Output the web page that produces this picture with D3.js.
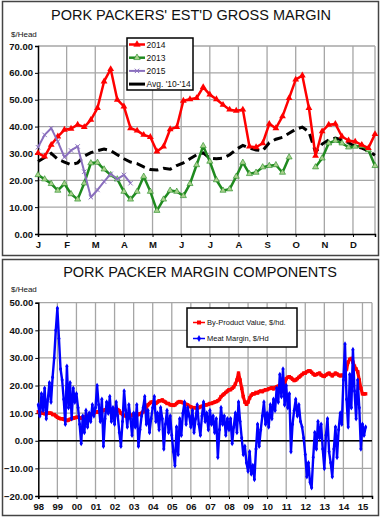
<!DOCTYPE html>
<html><head><meta charset="utf-8">
<script src="https://cdn.jsdelivr.net/npm/d3@7"></script>
<style>
body{margin:0;background:#fff}
svg{display:block;font-family:"Liberation Sans",Arial,sans-serif}
</style>
</head><body>
<svg id="c" width="382" height="520"></svg>
<script>
// ---------- Top chart data (weekly, 52 weeks) ----------
const monthLabels = ["J","F","M","A","M","J","J","A","S","O","N","D"];
const topYTicks = [0,10,20,30,40,50,60,70];
const series2014 = [30.1,28.8,33.2,36.3,38.8,39.2,40.7,39.8,42.5,46.9,56.8,61.4,50,47.5,39.4,38.5,36.9,36.1,30.7,32.6,39,39.8,49.6,50.2,50.6,54.7,51.9,50.2,48.1,46.3,45.9,46.3,32.6,32.3,33.8,41,39.4,43.8,50.6,57.5,59,46.9,29.1,38.2,40.7,41,36.3,34.8,34.4,33.2,32,37.2];
const series2013 = [22.0,20.4,18.7,16.2,18.7,14.9,12.9,18.9,26.4,26.6,24.1,22,20.4,15.8,12.9,15.8,21.4,15.8,8.7,12.9,16.2,15.8,14.2,18.7,25.7,32.8,27,20.1,16.2,16.7,21.4,26.6,22.4,22.9,24.9,25.4,25.7,22.9,28.6,null,null,null,24.9,28.2,33.8,34.8,33.8,32.3,32.6,32.8,31.3,25.4];
const series2015 = [32.3,36.9,39.4,34.4,28.6,31.1,32.6,23.2,13.7,16.4,19.5,22.4,20.4,22,18.9];
const seriesAvg = [27,28.5,30,27.8,26.8,25.8,26.5,29,30.3,31,31.6,31,29.5,28,26.8,26.2,25,24,23.8,24.5,24.1,25.5,26.5,28,29.5,30.2,28.2,28,28.2,29.5,31.5,33,32,31.3,31,34,35.3,36,37.5,39,39.8,38,30.5,33.5,35,35.7,35,34,32.5,32,31,29.3];
const topLegend = ["2014","2013","2015","Avg. '10-'14"];

// ---------- Bottom chart data (monthly, Jan 1998 .. Mar 2015) ----------
const yearLabels = ["98","99","00","01","02","03","04","05","06","07","08","09","10","11","12","13","14","15"];
const bottomYTicks = [-20,-10,0,10,20,30,40,50];
const byProduct = [
10.5,10.2,10,10,9.8,9.8,10,10,10,9.5,9.5,9,
8.5,8.2,8,8,7.8,7.5,7.3,7.5,7.8,8,8.2,8.3,
8.5,8.5,8.3,8.2,8.3,8.5,8.8,9,9.3,9.5,9.8,10,
10.3,10.5,10.3,10.5,10.8,11,11.2,11,10.8,11,11.2,11,
11,11.5,11.3,10.8,10,9.5,9.2,9,8.8,8.5,9,9.3,
9.5,9.5,9.3,9.5,9.8,10,10.5,11,12,13,13.5,14,
14,13.8,13.5,14,14.5,14.5,14.8,14.3,14,13.5,13.5,13,
13,12.8,13,13.5,14,14.2,14,13.8,13.5,13.2,13,12.5,
12.3,12,12,12,11.8,12,12.3,12.5,12.8,13,13,13.2,
13.5,13.5,13.8,14,14.2,14.5,15,16,16.5,17,17.5,18,
18.5,18.5,19,19.5,20.5,22,24.5,22,19,16,14,13.2,
14,15.5,16.5,17,17,17.5,17.3,17.8,18,17.8,18.2,18.5,
18.5,18.8,19,19.2,18.8,19.3,19.5,19.8,20,20,19.5,20.5,
22.5,23,23.2,22.8,22.3,21.8,22,22.5,23,23.5,24,24.5,
24.5,25,25.3,25.3,24.8,24.2,23.8,24,24.3,24.5,23.8,23.5,
23.3,23.8,24.2,24.5,24,23.5,24,24.5,24.2,23.8,23.5,23.8,
23.5,24.5,26,28.5,29.5,29.8,28.5,27,26,25,22,19,
17,17,17];
const meatMargin = [
13,9,17,11,19,8,15,21,14,23,30,40,
48,37,26,22,15,6,27,12,21,8,19,14,
17,12,6,-1,9,3,11,5,10,7,13,9,
12,20,13,7,15,-2,8,14,10,16,7,12,
6,14,9,3,-2,7,18,11,5,13,8,2,
10,5,13,-2,4,9,12,16,6,11,3,8,
12,16,7,10,4,12,8,-3,6,11,3,9,
2,-4,-9,5,-5,8,2,10,14,6,12,9,
5,11,3,8,13,6,2,9,14,7,10,4,
11,6,9,3,8,-6,4,12,6,9,2,8,
4,8,-1,5,10,3,14,7,1,-5,-2,-8,
-11,-4,-12,-9,-14,-3,6,-2,4,9,14,6,
10,5,13,8,15,11,19,14,24,16,26,13,
20,12,17,-4,6,11,15,9,13,7,5,1,
-5,-13,-8,-15,-17,-6,3,-3,7,1,6,-3,
-10,2,8,-4,-8,-13,-3,5,-6,4,10,6,
22,35,15,5,24,12,33,18,8,22,12,-3,
6,2,5];
const bottomLegend = ["By-Product Value, $/hd.","Meat Margin, $/Hd"];

const svg = d3.select("#c");
const GRID = "#a6a6a6";
const FONT_TICK = 9.5;

// frames
svg.append("rect").attr("x",2.5).attr("y",1.5).attr("width",376).attr("height",254)
  .attr("fill","none").attr("stroke","#444").attr("stroke-width",1.5);
svg.append("rect").attr("x",2.5).attr("y",259.5).attr("width",376).attr("height",256)
  .attr("fill","none").attr("stroke","#444").attr("stroke-width",1.5);

// ================= TOP CHART =================
const x1 = d3.scaleLinear().domain([0,51]).range([38,375]);
const y1 = d3.scaleLinear().domain([0,70]).range([234,46]);
const g1 = svg.append("g");

g1.append("text").attr("x",191).attr("y",19.5).attr("text-anchor","middle")
  .attr("font-size",14.5).attr("fill","#111").text("PORK PACKERS' EST'D GROSS MARGIN");
g1.append("text").attr("x",11).attr("y",37).attr("font-size",8).attr("fill","#111").text("$/Head");

g1.append("g").selectAll("line").data(topYTicks.filter(d=>d>0)).join("line")
  .attr("x1",38).attr("x2",375).attr("y1",d=>y1(d)).attr("y2",d=>y1(d))
  .attr("stroke",GRID).attr("stroke-width",1.3);
const monthPos = monthLabels.map((m,i)=>i*52/12);
g1.append("g").selectAll("line").data(monthPos.slice(1)).join("line")
  .attr("x1",d=>x1(d)).attr("x2",d=>x1(d)).attr("y1",46).attr("y2",234)
  .attr("stroke",GRID).attr("stroke-width",1.3);
g1.append("line").attr("x1",375).attr("x2",375).attr("y1",46).attr("y2",234)
  .attr("stroke",GRID).attr("stroke-width",1.3);

const ay1 = g1.append("g").attr("transform","translate(38,0)")
  .call(d3.axisLeft(y1).tickValues(topYTicks).tickFormat(d3.format(".2f")).tickSize(3).tickPadding(2));
const ax1 = g1.append("g").attr("transform","translate(0,234)")
  .call(d3.axisBottom(x1).tickValues(monthPos).tickFormat((d,i)=>monthLabels[i]).tickSize(3).tickPadding(4));
[ay1,ax1].forEach(a=>{
  a.select(".domain").attr("stroke","#000").attr("stroke-width",1.5);
  a.selectAll(".tick line").attr("stroke","#000");
  a.selectAll("text").attr("font-size",FONT_TICK).attr("font-weight","bold").attr("fill","#111")
   .attr("font-family","'Liberation Sans',Arial,sans-serif");
});

const line1 = d3.line().defined(d=>d!=null).x((d,i)=>x1(i)).y(d=>y1(d));
g1.append("path").datum(seriesAvg).attr("d",line1).attr("fill","none")
  .attr("stroke","#000").attr("stroke-width",3).attr("stroke-dasharray","9,5");
g1.append("path").datum(series2013).attr("d",line1).attr("fill","none")
  .attr("stroke","#1f8a1f").attr("stroke-width",2.5).attr("stroke-linejoin","round");
g1.append("g").selectAll("path").data(series2013.map((v,i)=>[i,v]).filter(d=>d[1]!=null)).join("path")
  .attr("d",d3.symbol(d3.symbolTriangle).size(16)()).attr("transform",d=>`translate(${x1(d[0])},${y1(d[1])})`)
  .attr("fill","#a9d18e").attr("stroke","#1f8a1f").attr("stroke-width",0.6);

g1.append("path").datum(series2014).attr("d",line1).attr("fill","none")
  .attr("stroke","#ff0000").attr("stroke-width",2.5).attr("stroke-linejoin","round");
g1.append("g").selectAll("path").data(series2014.map((v,i)=>[i,v])).join("path")
  .attr("d",d3.symbol(d3.symbolTriangle).size(20)()).attr("transform",d=>`translate(${x1(d[0])},${y1(d[1])})`)
  .attr("fill","#ff0000");

g1.append("path").datum(series2015).attr("d",line1).attr("fill","none")
  .attr("stroke","#8a6fbe").attr("stroke-width",2).attr("stroke-linejoin","round");
const xMark = "M-2.2,-2.2L2.2,2.2M-2.2,2.2L2.2,-2.2";
g1.append("g").selectAll("path").data(series2015.map((v,i)=>[i,v])).join("path")
  .attr("d",xMark).attr("transform",d=>`translate(${x1(d[0])},${y1(d[1])})`)
  .attr("stroke","#8a6fbe").attr("stroke-width",1);

const lg1 = g1.append("g");
lg1.append("rect").attr("x",127).attr("y",38).attr("width",66).attr("height",52)
  .attr("fill","#fff").attr("stroke","#000").attr("stroke-width",1.5);
const lgStyles = [
  {c:"#ff0000",w:2.5,m:"tri",fill:"#ff0000"},
  {c:"#1f8a1f",w:2.5,m:"tri",fill:"#a9d18e"},
  {c:"#8a6fbe",w:2,m:"x"},
  {c:"#000",w:3,m:null}
];
topLegend.forEach((t,i)=>{
  const yy = 44.5 + i*13.2;
  const s = lgStyles[i];
  lg1.append("line").attr("x1",129).attr("x2",145).attr("y1",yy).attr("y2",yy)
    .attr("stroke",s.c).attr("stroke-width",s.w);
  if(s.m==="tri") lg1.append("path").attr("d",d3.symbol(d3.symbolTriangle).size(18)())
    .attr("transform",`translate(137,${yy})`).attr("fill",s.fill).attr("stroke",s.c).attr("stroke-width",0.6);
  if(s.m==="x") lg1.append("path").attr("d",xMark).attr("transform",`translate(137,${yy})`)
    .attr("stroke",s.c).attr("stroke-width",1);
  lg1.append("text").attr("x",146.5).attr("y",yy+3).attr("font-size",8.5).attr("fill","#111").text(t);
});

// ================= BOTTOM CHART =================
const x2 = d3.scaleLinear().domain([1998,2015.5]).range([38.3,372]);
const y2 = d3.scaleLinear().domain([-20,50]).range([496,302.7]);
const g2 = svg.append("g");
g2.append("text").attr("x",200).attr("y",276.5).attr("text-anchor","middle")
  .attr("font-size",14.5).attr("fill","#111").text("PORK PACKER MARGIN COMPONENTS");
g2.append("text").attr("x",11).attr("y",292).attr("font-size",8).attr("fill","#111").text("$/Head");

g2.append("g").selectAll("line").data(bottomYTicks.filter(d=>d>-20)).join("line")
  .attr("x1",38.3).attr("x2",372).attr("y1",d=>y2(d)).attr("y2",d=>y2(d))
  .attr("stroke",GRID).attr("stroke-width",1.3);
const yearPos = yearLabels.map((t,i)=>1998+i);
g2.append("g").selectAll("line").data(yearPos.slice(1)).join("line")
  .attr("x1",d=>x2(d)).attr("x2",d=>x2(d)).attr("y1",302.7).attr("y2",496)
  .attr("stroke",GRID).attr("stroke-width",1.3);
g2.append("line").attr("x1",372).attr("x2",372).attr("y1",302.7).attr("y2",496)
  .attr("stroke",GRID).attr("stroke-width",1.3);

const ay2 = g2.append("g").attr("transform","translate(38.3,0)")
  .call(d3.axisLeft(y2).tickValues(bottomYTicks).tickFormat(d3.format(".2f")).tickSize(3).tickPadding(2));
const ax2 = g2.append("g").attr("transform","translate(0,496)")
  .call(d3.axisBottom(x2).tickValues(yearPos).tickFormat((d,i)=>yearLabels[i]).tickSize(3).tickPadding(4));
[ay2,ax2].forEach(a=>{
  a.select(".domain").attr("stroke","#000").attr("stroke-width",1.5);
  a.selectAll(".tick line").attr("stroke","#000");
  a.selectAll("text").attr("font-size",FONT_TICK).attr("font-weight","bold").attr("fill","#111")
   .attr("font-family","'Liberation Sans',Arial,sans-serif");
});
g2.append("line").attr("x1",38.3).attr("x2",372).attr("y1",y2(0)).attr("y2",y2(0))
  .attr("stroke","#000").attr("stroke-width",1.5);

const line2 = d3.line().x((d,i)=>x2(1998+i/12)).y(d=>y2(d));
g2.append("path").datum(byProduct).attr("d",line2).attr("fill","none")
  .attr("stroke","#ff0000").attr("stroke-width",3.2).attr("stroke-linejoin","round");
g2.append("g").selectAll("rect").data(byProduct).join("rect")
  .attr("x",(d,i)=>x2(1998+i/12)-1.7).attr("y",d=>y2(d)-1.7).attr("width",3.4).attr("height",3.4)
  .attr("fill","#ff0000");
g2.append("path").datum(meatMargin).attr("d",line2).attr("fill","none")
  .attr("stroke","#0000ff").attr("stroke-width",2.4).attr("stroke-linejoin","round");
g2.append("g").selectAll("path").data(meatMargin).join("path")
  .attr("d",d3.symbol(d3.symbolDiamond).size(9)())
  .attr("transform",(d,i)=>`translate(${x2(1998+i/12)},${y2(d)})`).attr("fill","#0000ff");

const lg2 = g2.append("g");
lg2.append("rect").attr("x",187).attr("y",308).attr("width",110).attr("height",39)
  .attr("fill","#fff").attr("stroke","#000").attr("stroke-width",1.5);
const lg2Styles = [{c:"#ff0000",m:"sq"},{c:"#0000ff",m:"dia"}];
bottomLegend.forEach((t,i)=>{
  const yy = 322.5 + i*16;
  const s = lg2Styles[i];
  lg2.append("line").attr("x1",193).attr("x2",205).attr("y1",yy).attr("y2",yy)
    .attr("stroke",s.c).attr("stroke-width",1.5);
  if(s.m==="sq") lg2.append("rect").attr("x",197).attr("y",yy-2).attr("width",4).attr("height",4).attr("fill",s.c);
  else lg2.append("path").attr("d",d3.symbol(d3.symbolDiamond).size(14)()).attr("transform",`translate(199,${yy})`).attr("fill",s.c);
  lg2.append("text").attr("x",207).attr("y",yy+2.8).attr("font-size",7.5).attr("fill","#111").text(t);
});
</script>
</body></html>
